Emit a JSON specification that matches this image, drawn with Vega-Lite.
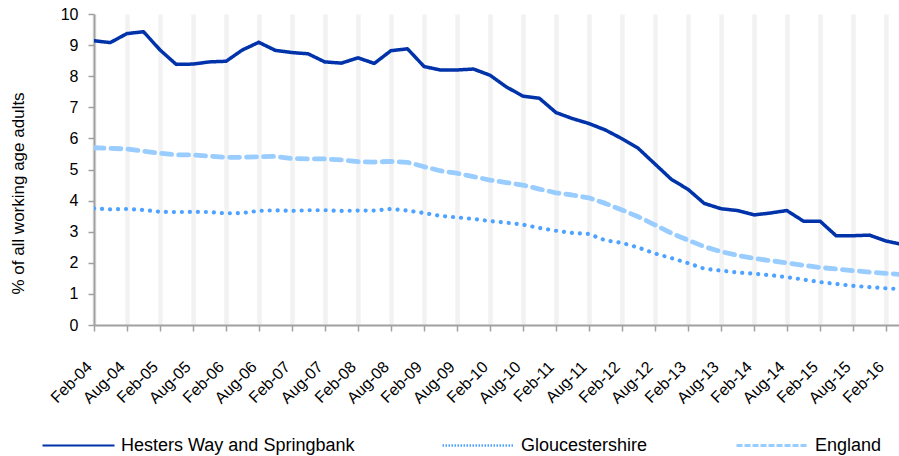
{
  "$schema": "https://vega.github.io/schema/vega-lite/v6.json",
  "width": 805,
  "height": 311,
  "autosize": {"type": "none"},
  "padding": {"left": 94, "top": 14, "right": 0, "bottom": 131},
  "background": "white",
  "config": {
    "view": {"stroke": null},
    "font": "Liberation Sans"
  },
  "data": {
    "values": [
      {"d": "2004-02-01", "Hesters Way and Springbank": 9.14, "Gloucestershire": 3.75, "England": 5.70},
      {"d": "2004-05-01", "Hesters Way and Springbank": 9.08, "Gloucestershire": 3.72, "England": 5.68},
      {"d": "2004-08-01", "Hesters Way and Springbank": 9.37, "Gloucestershire": 3.73, "England": 5.66},
      {"d": "2004-11-01", "Hesters Way and Springbank": 9.43, "Gloucestershire": 3.70, "England": 5.59},
      {"d": "2005-02-01", "Hesters Way and Springbank": 8.84, "Gloucestershire": 3.64, "England": 5.52},
      {"d": "2005-05-01", "Hesters Way and Springbank": 8.38, "Gloucestershire": 3.63, "England": 5.47},
      {"d": "2005-08-01", "Hesters Way and Springbank": 8.39, "Gloucestershire": 3.64, "England": 5.47},
      {"d": "2005-11-01", "Hesters Way and Springbank": 8.46, "Gloucestershire": 3.63, "England": 5.43},
      {"d": "2006-02-01", "Hesters Way and Springbank": 8.48, "Gloucestershire": 3.59, "England": 5.39},
      {"d": "2006-05-01", "Hesters Way and Springbank": 8.84, "Gloucestershire": 3.60, "England": 5.39},
      {"d": "2006-08-01", "Hesters Way and Springbank": 9.09, "Gloucestershire": 3.67, "England": 5.41},
      {"d": "2006-11-01", "Hesters Way and Springbank": 8.83, "Gloucestershire": 3.69, "England": 5.42},
      {"d": "2007-02-01", "Hesters Way and Springbank": 8.76, "Gloucestershire": 3.67, "England": 5.35},
      {"d": "2007-05-01", "Hesters Way and Springbank": 8.72, "Gloucestershire": 3.69, "England": 5.34},
      {"d": "2007-08-01", "Hesters Way and Springbank": 8.46, "Gloucestershire": 3.69, "England": 5.34},
      {"d": "2007-11-01", "Hesters Way and Springbank": 8.42, "Gloucestershire": 3.67, "England": 5.31},
      {"d": "2008-02-01", "Hesters Way and Springbank": 8.59, "Gloucestershire": 3.68, "England": 5.25},
      {"d": "2008-05-01", "Hesters Way and Springbank": 8.41, "Gloucestershire": 3.68, "England": 5.24},
      {"d": "2008-08-01", "Hesters Way and Springbank": 8.82, "Gloucestershire": 3.73, "England": 5.26},
      {"d": "2008-11-01", "Hesters Way and Springbank": 8.88, "Gloucestershire": 3.68, "England": 5.23},
      {"d": "2009-02-01", "Hesters Way and Springbank": 8.31, "Gloucestershire": 3.60, "England": 5.09},
      {"d": "2009-05-01", "Hesters Way and Springbank": 8.20, "Gloucestershire": 3.51, "England": 4.96},
      {"d": "2009-08-01", "Hesters Way and Springbank": 8.20, "Gloucestershire": 3.46, "England": 4.88},
      {"d": "2009-11-01", "Hesters Way and Springbank": 8.23, "Gloucestershire": 3.41, "England": 4.77},
      {"d": "2010-02-01", "Hesters Way and Springbank": 8.03, "Gloucestershire": 3.34, "England": 4.66},
      {"d": "2010-05-01", "Hesters Way and Springbank": 7.66, "Gloucestershire": 3.29, "England": 4.58},
      {"d": "2010-08-01", "Hesters Way and Springbank": 7.36, "Gloucestershire": 3.23, "England": 4.50},
      {"d": "2010-11-01", "Hesters Way and Springbank": 7.29, "Gloucestershire": 3.12, "England": 4.37},
      {"d": "2011-02-01", "Hesters Way and Springbank": 6.83, "Gloucestershire": 3.03, "England": 4.25},
      {"d": "2011-05-01", "Hesters Way and Springbank": 6.64, "Gloucestershire": 2.96, "England": 4.18},
      {"d": "2011-08-01", "Hesters Way and Springbank": 6.48, "Gloucestershire": 2.93, "England": 4.09},
      {"d": "2011-11-01", "Hesters Way and Springbank": 6.27, "Gloucestershire": 2.72, "England": 3.91},
      {"d": "2012-02-01", "Hesters Way and Springbank": 5.99, "Gloucestershire": 2.64, "England": 3.70},
      {"d": "2012-05-01", "Hesters Way and Springbank": 5.68, "Gloucestershire": 2.49, "England": 3.48},
      {"d": "2012-08-01", "Hesters Way and Springbank": 5.18, "Gloucestershire": 2.30, "England": 3.22},
      {"d": "2012-11-01", "Hesters Way and Springbank": 4.68, "Gloucestershire": 2.15, "England": 2.95},
      {"d": "2013-02-01", "Hesters Way and Springbank": 4.36, "Gloucestershire": 1.99, "England": 2.73},
      {"d": "2013-05-01", "Hesters Way and Springbank": 3.91, "Gloucestershire": 1.81, "England": 2.52},
      {"d": "2013-08-01", "Hesters Way and Springbank": 3.74, "Gloucestershire": 1.75, "England": 2.36},
      {"d": "2013-11-01", "Hesters Way and Springbank": 3.68, "Gloucestershire": 1.69, "England": 2.24},
      {"d": "2014-02-01", "Hesters Way and Springbank": 3.54, "Gloucestershire": 1.65, "England": 2.14},
      {"d": "2014-05-01", "Hesters Way and Springbank": 3.60, "Gloucestershire": 1.60, "England": 2.07},
      {"d": "2014-08-01", "Hesters Way and Springbank": 3.68, "Gloucestershire": 1.54, "England": 2.00},
      {"d": "2014-11-01", "Hesters Way and Springbank": 3.34, "Gloucestershire": 1.46, "England": 1.92},
      {"d": "2015-02-01", "Hesters Way and Springbank": 3.34, "Gloucestershire": 1.38, "England": 1.85},
      {"d": "2015-05-01", "Hesters Way and Springbank": 2.87, "Gloucestershire": 1.32, "England": 1.80},
      {"d": "2015-08-01", "Hesters Way and Springbank": 2.87, "Gloucestershire": 1.26, "England": 1.75},
      {"d": "2015-11-01", "Hesters Way and Springbank": 2.89, "Gloucestershire": 1.22, "England": 1.70},
      {"d": "2016-02-01", "Hesters Way and Springbank": 2.70, "Gloucestershire": 1.18, "England": 1.66},
      {"d": "2016-05-01", "Hesters Way and Springbank": 2.59, "Gloucestershire": 1.15, "England": 1.62}
    ]
  },
  "transform": [
    {"fold": ["Hesters Way and Springbank", "Gloucestershire", "England"], "as": ["series", "value"]}
  ],
  "encoding": {
    "x": {
      "field": "d",
      "type": "temporal",
      "scale": {"type": "utc", "domain": [{"year": 2004, "month": 2, "date": 1, "utc": true}, {"year": 2016, "month": 4, "date": 13, "utc": true}]},
      "axis": {
        "title": null,
        "labelExpr": "utcFormat(datum.value, '%b-%y')",
        "values": [
          {"year": 2004, "month": 2, "date": 1, "utc": true}, {"year": 2004, "month": 8, "date": 1, "utc": true},
          {"year": 2005, "month": 2, "date": 1, "utc": true}, {"year": 2005, "month": 8, "date": 1, "utc": true},
          {"year": 2006, "month": 2, "date": 1, "utc": true}, {"year": 2006, "month": 8, "date": 1, "utc": true},
          {"year": 2007, "month": 2, "date": 1, "utc": true}, {"year": 2007, "month": 8, "date": 1, "utc": true},
          {"year": 2008, "month": 2, "date": 1, "utc": true}, {"year": 2008, "month": 8, "date": 1, "utc": true},
          {"year": 2009, "month": 2, "date": 1, "utc": true}, {"year": 2009, "month": 8, "date": 1, "utc": true},
          {"year": 2010, "month": 2, "date": 1, "utc": true}, {"year": 2010, "month": 8, "date": 1, "utc": true},
          {"year": 2011, "month": 2, "date": 1, "utc": true}, {"year": 2011, "month": 8, "date": 1, "utc": true},
          {"year": 2012, "month": 2, "date": 1, "utc": true}, {"year": 2012, "month": 8, "date": 1, "utc": true},
          {"year": 2013, "month": 2, "date": 1, "utc": true}, {"year": 2013, "month": 8, "date": 1, "utc": true},
          {"year": 2014, "month": 2, "date": 1, "utc": true}, {"year": 2014, "month": 8, "date": 1, "utc": true},
          {"year": 2015, "month": 2, "date": 1, "utc": true}, {"year": 2015, "month": 8, "date": 1, "utc": true},
          {"year": 2016, "month": 2, "date": 1, "utc": true}
        ],
        "labelAngle": -45,
        "labelAlign": "right",
        "labelBaseline": "middle",
        "labelFontSize": 16,
        "labelColor": "#000000",
        "labelPadding": 33,
        "labelOffset": -5,
        "labelFlush": false,
        "labelOverlap": false,
        "grid": true,
        "gridColor": "#f2f2f2",
        "gridWidth": 4.5,
        "domainColor": "#a0a0a0",
        "domainWidth": 2,
        "tickColor": "#a0a0a0",
        "tickWidth": 1.5,
        "tickSize": 6
      }
    },
    "y": {
      "field": "value",
      "type": "quantitative",
      "scale": {"domain": [0, 10], "nice": false},
      "axis": {
        "title": "% of all working age adults",
        "titleFontSize": 17,
        "titleFontWeight": "normal",
        "titleColor": "#000000",
        "titleAngle": -90,
        "titleX": -76,
        "titleY": 179,
        "titleAlign": "center",
        "titleBaseline": "middle",
        "values": [0, 1, 2, 3, 4, 5, 6, 7, 8, 9, 10],
        "labelFontSize": 16,
        "labelColor": "#000000",
        "labelPadding": 10,
        "grid": false,
        "domainColor": "#a0a0a0",
        "domainWidth": 2,
        "tickColor": "#a0a0a0",
        "tickWidth": 1.5,
        "tickSize": 6
      }
    }
  },
  "layer": [
    {
      "mark": {"type": "line", "strokeCap": "round", "strokeJoin": "round", "clip": true},
      "encoding": {
        "color": {
          "field": "series", "type": "nominal",
          "scale": {"domain": ["Hesters Way and Springbank", "Gloucestershire", "England"], "range": ["#0033aa", "#4da3ff", "#99ccff"]},
          "legend": null
        },
        "strokeDash": {
          "field": "series", "type": "nominal",
          "scale": {"domain": ["Hesters Way and Springbank", "Gloucestershire", "England"], "range": [[1, 0], [0.1, 7.9], [10, 7]]},
          "legend": null
        },
        "strokeWidth": {
          "field": "series", "type": "nominal",
          "scale": {"domain": ["Hesters Way and Springbank", "Gloucestershire", "England"], "range": [3.5, 4.8, 5]},
          "legend": null
        }
      }
    },
    {
      "mark": {"type": "line", "opacity": 0, "clip": true},
      "encoding": {
        "color": {
          "field": "series", "type": "nominal",
          "scale": {"domain": ["Hesters Way and Springbank", "Gloucestershire", "England"], "range": ["#0033aa", "#4da3ff", "#99ccff"]},
          "legend": {
            "title": null, "orient": "none", "legendX": -53, "legendY": 394, "direction": "horizontal", "columns": 3,
            "symbolType": "stroke", "symbolSize": 5184, "symbolOpacity": 1, "labelFontSize": 18, "labelColor": "#000000", "labelOffset": 5,
            "columnPadding": 82, "gridAlign": "none", "padding": 0, "labelLimit": 400
          }
        },
        "strokeDash": {
          "field": "series", "type": "nominal",
          "scale": {"domain": ["Hesters Way and Springbank", "Gloucestershire", "England"], "range": [[1, 0], [1.5, 1.5], [6, 2]]},
          "legend": {
            "title": null, "orient": "none", "legendX": -53, "legendY": 394, "direction": "horizontal", "columns": 3,
            "symbolType": "stroke", "symbolSize": 5184, "symbolOpacity": 1, "labelFontSize": 18, "labelColor": "#000000", "labelOffset": 5,
            "columnPadding": 82, "gridAlign": "none", "padding": 0, "labelLimit": 400
          }
        },
        "strokeWidth": {
          "field": "series", "type": "nominal",
          "scale": {"domain": ["Hesters Way and Springbank", "Gloucestershire", "England"], "range": [2.2, 2.8, 3.8]},
          "legend": {
            "title": null, "orient": "none", "legendX": -53, "legendY": 394, "direction": "horizontal", "columns": 3,
            "symbolType": "stroke", "symbolSize": 5184, "symbolOpacity": 1, "labelFontSize": 18, "labelColor": "#000000", "labelOffset": 5,
            "columnPadding": 82, "gridAlign": "none", "padding": 0, "labelLimit": 400
          }
        }
      }
    }
  ],
  "resolve": {
    "scale": {"color": "independent", "strokeDash": "independent", "strokeWidth": "independent"},
    "legend": {"color": "independent", "strokeDash": "independent", "strokeWidth": "independent"}
  }
}
